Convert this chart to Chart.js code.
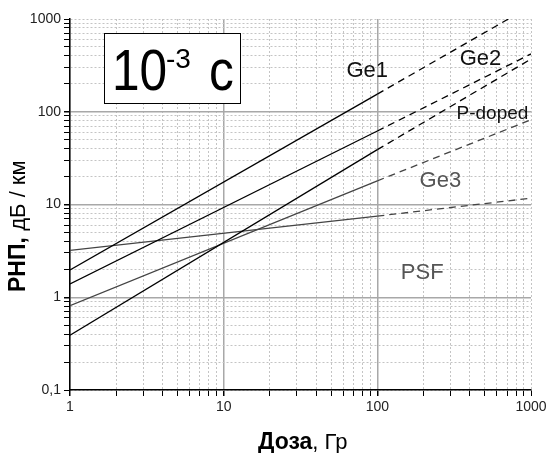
<!DOCTYPE html>
<html>
<head>
<meta charset="utf-8">
<script src="https://cdn.jsdelivr.net/npm/chart.js@4"></script>
<style>html,body{margin:0;padding:0;background:#fff}</style>
</head>
<body>
<canvas id="rnpchart" width="550" height="453"></canvas>
<script>
// Dose points: start, end of measured part, end of extrapolation
var doses = [1, 100, 1000];
// Radiation-induced loss, dB/km
var ge1 = [1.97, 155, 1380];
var ge2 = [1.39, 62, 420];
var pdoped = [0.39, 39, 370];
var ge3 = [0.81, 18, 82];
var psf = [3.2, 7.5, 11.7];
var seriesNames = ['Ge1', 'Ge2', 'P-doped', 'Ge3', 'PSF'];
var xTickLabels = [1, 10, 100, 1000];
var yTickLabels = [0.1, 1, 10, 100, 1000];

var allSeries = [ge1, ge2, pdoped, ge3, psf];
var lineColors = ['#000', '#000', '#000', '#444', '#444'];

function isMajor(v) {
    return v === 1 || v === 10 || v === 100;
}

// log ticks 1..9 per decade
function logTicks(min, max) {
    var out = [];
    for (var d = min; d < max; d *= 10) {
        for (var k = 1; k < 10; k++) out.push({ value: +(d * k).toPrecision(6) });
    }
    out.push({ value: max });
    return out;
}

var datasets = [];
allSeries.forEach(function (s, i) {
    datasets.push({
        label: seriesNames[i],
        data: [{ x: doses[0], y: s[0] }, { x: doses[1], y: s[1] }],
        borderColor: lineColors[i],
        borderWidth: 1.3
    });
    datasets.push({
        label: seriesNames[i] + ' (extrapolated)',
        data: [{ x: doses[1], y: s[1] }, { x: doses[2], y: s[2] }],
        borderColor: lineColors[i],
        borderWidth: 1.3,
        borderDash: [7, 5]
    });
});

function gridOpts() {
    return {
        color: function (c) { return c.tick && isMajor(c.tick.value) ? '#a8a8a8' : '#c4c4c4'; },
        lineWidth: function (c) { return c.tick && isMajor(c.tick.value) ? 1.5 : 1; },
        tickColor: '#000',
        tickLength: 6
    };
}
function borderOpts() {
    return {
        color: '#000',
        width: 1.5,
        dash: function (c) { return c.tick && isMajor(c.tick.value) ? [] : [2, 2]; }
    };
}

// labels, box and axis titles
var textPlugin = {
    id: 'texts',
    afterDraw: function (chart) {
        var ctx = chart.ctx;
        var xs = chart.scales.x, ys = chart.scales.y;
        ctx.save();

        // series labels (data coordinates)
        var labels = [
            { t: 'Ge1', x: 86, y: 277, c: '#111', s: 22 },
            { t: 'Ge2', x: 469, y: 373, c: '#111', s: 22 },
            { t: 'P-doped', x: 561, y: 95, c: '#111', s: 19 },
            { t: 'Ge3', x: 257, y: 18.1, c: '#555', s: 22 },
            { t: 'PSF', x: 196, y: 1.85, c: '#555', s: 22 }
        ];
        ctx.textAlign = 'center';
        ctx.textBaseline = 'middle';
        labels.forEach(function (l) {
            ctx.fillStyle = l.c;
            ctx.font = l.s + 'px "Liberation Sans", Arial, sans-serif';
            ctx.fillText(l.t, xs.getPixelForValue(l.x), ys.getPixelForValue(l.y));
        });

        // time box
        ctx.fillStyle = '#fff';
        ctx.fillRect(104.5, 33.5, 136, 70);
        ctx.strokeStyle = '#000';
        ctx.lineWidth = 1;
        ctx.strokeRect(104.5, 33.5, 136, 70);
        ctx.fillStyle = '#000';
        ctx.textAlign = 'left';
        ctx.textBaseline = 'alphabetic';
        ctx.save();
        ctx.translate(112, 90);
        ctx.scale(0.87, 1);
        ctx.font = '57px "Liberation Sans", Arial, sans-serif';
        ctx.fillText('10', 0, 0);
        ctx.restore();
        ctx.font = '28px "Liberation Sans", Arial, sans-serif';
        ctx.fillText('-3', 166, 68);
        ctx.save();
        ctx.translate(209, 90);
        ctx.scale(0.87, 1);
        ctx.font = '57px "Liberation Sans", Arial, sans-serif';
        ctx.fillText('с', 0, 0);
        ctx.restore();

        // x title
        var bold = 'bold 23px "Liberation Sans", Arial, sans-serif';
        var norm = '22px "Liberation Sans", Arial, sans-serif';
        ctx.font = bold;
        ctx.fillText('Доза', 258, 449);
        var w = ctx.measureText('Доза').width;
        ctx.font = norm;
        ctx.fillText(', Гр', 258 + w, 449);

        // y title
        ctx.translate(25, 292);
        ctx.rotate(-Math.PI / 2);
        ctx.font = bold;
        ctx.fillText('РНП,', 0, 0);
        w = ctx.measureText('РНП, ').width;
        ctx.font = norm;
        ctx.fillText('дБ / км', w, 0);
        ctx.restore();
    }
};

var ctx = document.getElementById('rnpchart').getContext('2d');

var rnpchart = new Chart(ctx, {
    type: 'scatter',
    data: { datasets: datasets },
    options: {
        responsive: false,
        animation: false,
        showLine: true,
        elements: { point: { radius: 0 } },
        layout: { padding: { top: 19, right: 19, left: 0, bottom: 0 } },
        scales: {
            x: {
                type: 'logarithmic',
                min: 1,
                max: 1000,
                afterBuildTicks: function (scale) { scale.ticks = logTicks(1, 1000); },
                afterFit: function (scale) { scale.height = 63; },
                grid: gridOpts(),
                border: borderOpts(),
                ticks: {
                    autoSkip: false,
                    maxRotation: 0,
                    padding: 3,
                    color: '#222',
                    font: { family: '"Liberation Sans", Arial, sans-serif', size: 14 },
                    callback: function (v) {
                        return xTickLabels.indexOf(v) >= 0 ? String(v) : '';
                    }
                }
            },
            y: {
                type: 'logarithmic',
                min: 0.1,
                max: 1000,
                afterBuildTicks: function (scale) { scale.ticks = logTicks(0.1, 1000); },
                afterFit: function (scale) { scale.width = 70; },
                grid: gridOpts(),
                border: borderOpts(),
                ticks: {
                    autoSkip: false,
                    padding: 3,
                    color: '#222',
                    font: { family: '"Liberation Sans", Arial, sans-serif', size: 14 },
                    callback: function (v) {
                        return yTickLabels.indexOf(v) >= 0 ? String(v).replace('.', ',') : '';
                    }
                }
            }
        },
        plugins: {
            legend: { display: false },
            tooltip: { enabled: false }
        }
    },
    plugins: [textPlugin]
});
</script>
</body>
</html>
